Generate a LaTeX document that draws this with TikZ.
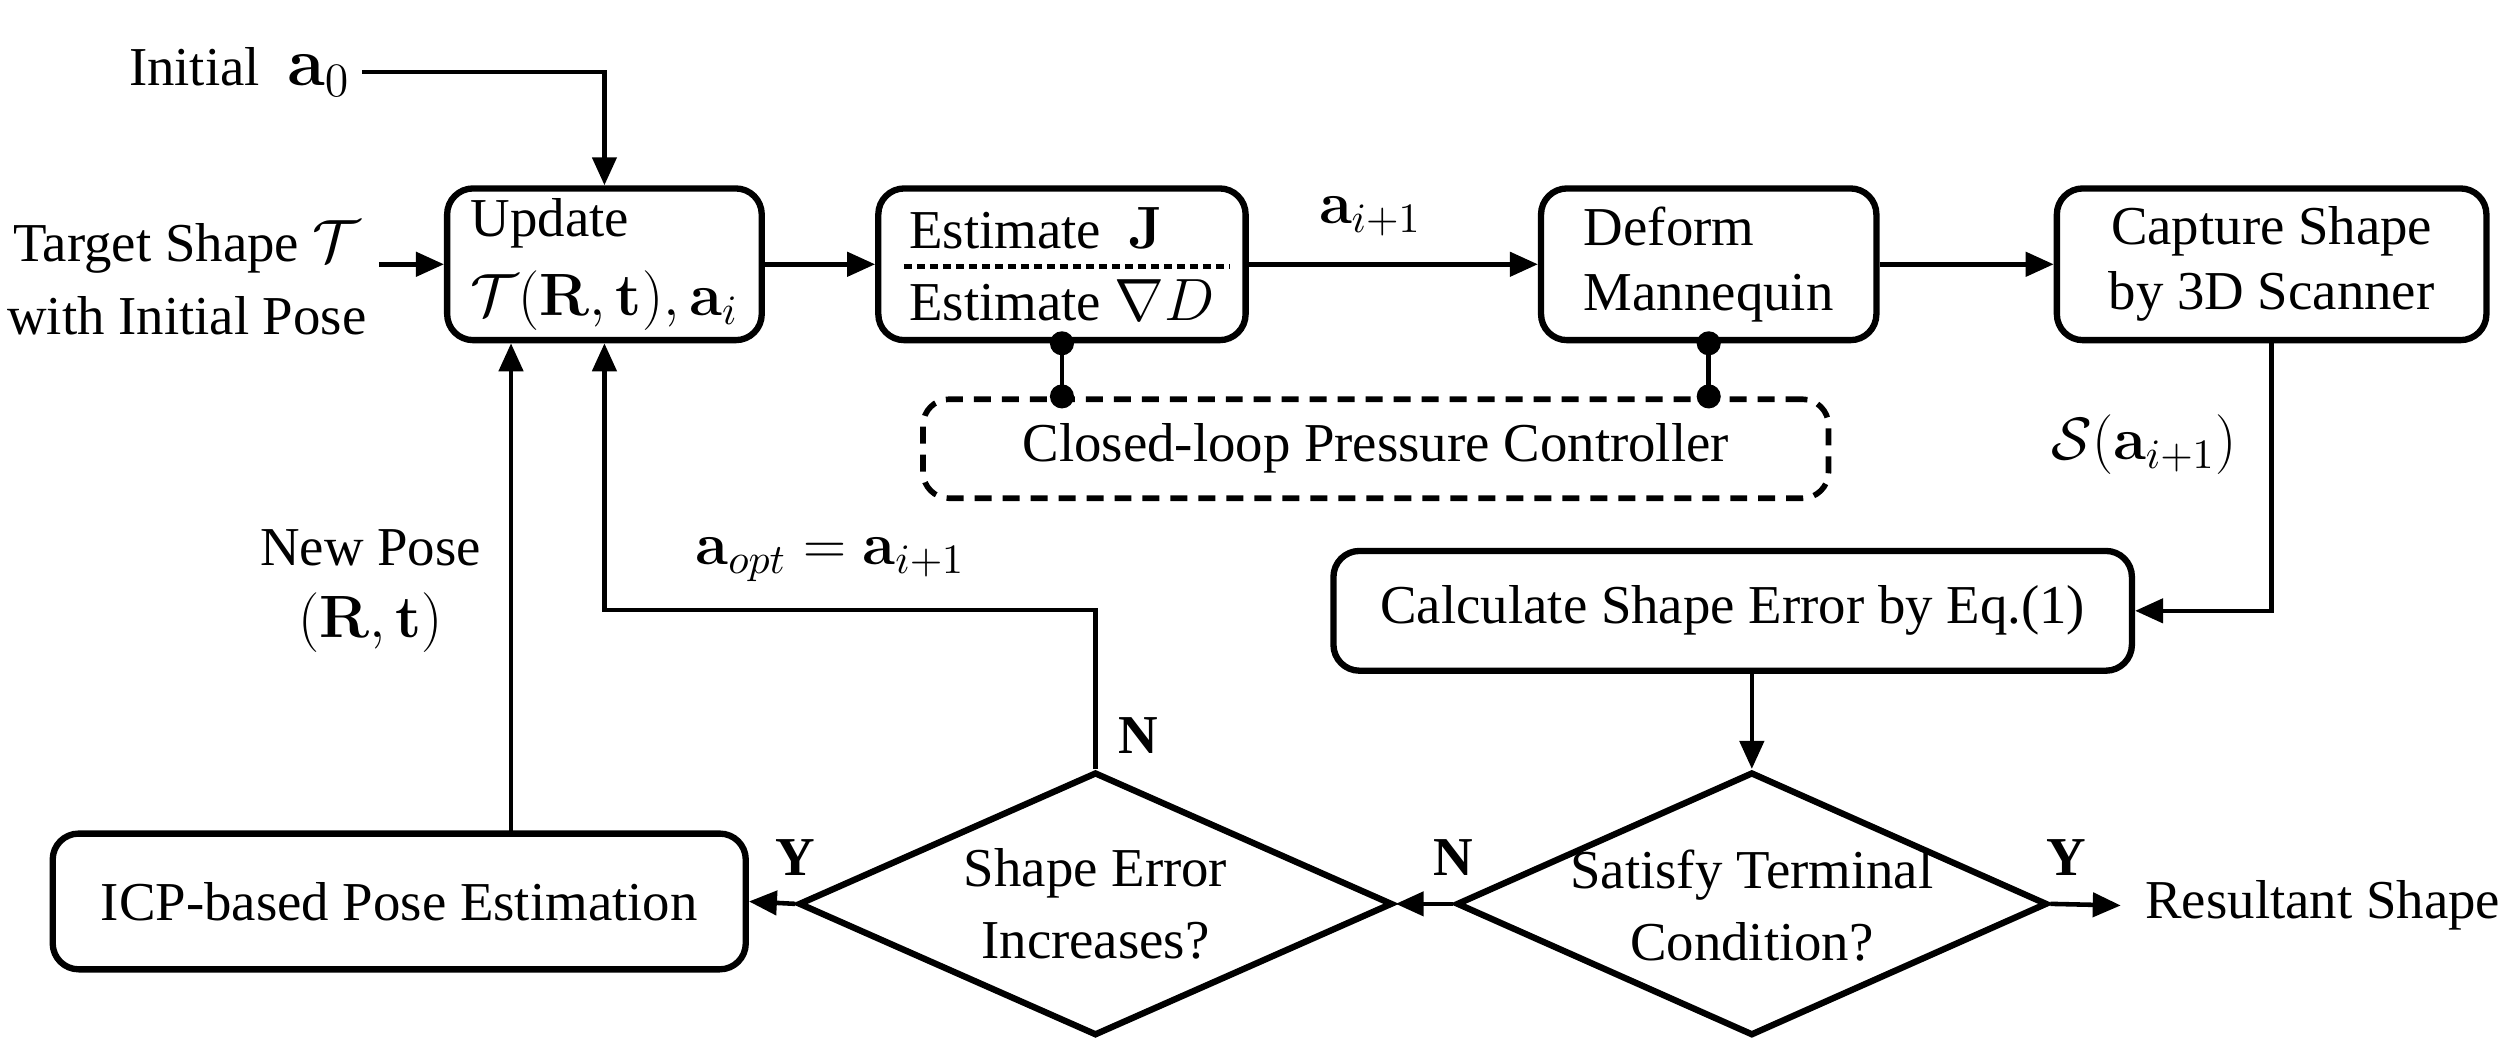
\RequirePackage{fix-cm}
\documentclass[tikz,border=0pt]{standalone}
\usepackage[no-math]{fontspec}
\setmainfont{Liberation Serif}
\usetikzlibrary{arrows.meta,shapes.geometric}
\newdimen\myu \myu=0.01597cm
\newcommand{\mm}[1]{{\fontsize{17}{18.5}\selectfont$#1$}}
\newcommand{\mmb}[1]{{\fontsize{19.5}{19.5}\selectfont$#1$}}
\begin{document}
\begin{tikzpicture}[x=0.01597cm,y=-0.01597cm,
  font=\fontsize{15.6}{18.5}\selectfont,
  box/.style={draw, line width=1.8pt, rounded corners=0.26cm, inner sep=0pt},
  arr/.style={line width=1.3pt, -{Triangle[length=0.28cm,width=0.24cm]}},
  dotl/.style={line width=1.3pt, {Circle[length=0.24cm,width=0.24cm]}-{Circle[length=0.24cm,width=0.24cm]}, shorten <=-0.12cm, shorten >=-0.12cm},
  dia/.style={diamond, draw, line width=1.8pt, inner sep=0pt}]
\useasboundingbox (0,0) rectangle (1568,651);

% boxes
\node[box, align=left, minimum width={197*\myu}, minimum height={95*\myu}] (upd) at (378.5,165.5)
  {Update\\[4pt]\mm{\mathcal{T}(\mathbf{R},\mathbf{t}),\mathbf{a}_i}};
\node[box, align=left, minimum width={230*\myu}, minimum height={95*\myu}] (est) at (665,165.5)
  {Estimate \ \mm{\mathbf{J}}\\[2pt]Estimate \mm{\nabla D}};
\node[box, align=left, minimum width={210*\myu}, minimum height={95*\myu}] (def) at (1070,165.5)
  {Deform\\Mannequin};
\node[box, align=center, minimum width={269*\myu}, minimum height={95*\myu}] (cap) at (1422.5,165.5)
  {Capture Shape\\by 3D Scanner};
\node[box, dashed, dash pattern=on 0.17cm off 0.11cm, line width=1.6pt, minimum width={567*\myu}, minimum height={62*\myu}] (ctrl) at (861.5,281)
  {Closed-loop Pressure Controller};
\node[box, minimum width={500*\myu}, minimum height={75*\myu}] (calc) at (1085,382.5)
  {Calculate Shape Error by Eq.(1)};
\node[box, minimum width={434*\myu}, minimum height={85*\myu}] (icp) at (250,564.5)
  {ICP-based Pose Estimation};
\node[dia, minimum width={372*\myu}, minimum height={165*\myu}] (d1) at (686,566) {};
\node[align=center] (d1t) at (686,566) {Shape Error\\[2pt]Increases?};
\node[dia, minimum width={370*\myu}, minimum height={165*\myu}] (d2) at (1097,566) {};
\node[align=center] (d2t) at (1097,567) {Satisfy Terminal\\[2pt]Condition?};

% free texts
\node (init) at (150,45) {Initial \ \mmb{\mathbf{a}_0}};
\node[align=center] (tgt) at (117,174) {Target Shape \mm{\mathcal{T}}\\[2pt]with Initial Pose};
\node[anchor=west, inner sep=0pt] (res) at (1343,567) {Resultant Shape};
\node[align=center] (np) at (232,370) {New Pose\\[2pt]\mm{(\mathbf{R},\mathbf{t})}};
\coordinate (k) at (378.5,382);
\coordinate (icpo) at (320,522);

% separator in estimate box
\draw[line width=1.3pt, dash pattern=on 0.08cm off 0.05cm] (566,167) -- (770,167);

% connectors
\draw[arr] (init) -| (upd);
\draw[arr] (tgt.east |- upd) -- (upd.west);
\draw[arr] (upd) -- (est);
\draw[arr] (est) -- node[pos=0.42, above=4pt] {\mm{\mathbf{a}_{i+1}}} (def);
\draw[arr] (def) -- (cap);
\draw[arr] (cap.south) |- node[pos=0.19, left=6pt] {\mm{\mathcal{S}(\mathbf{a}_{i+1})}} (calc.east);
\draw[arr] (d2.north |- calc.south) -- (d2.north);
\draw[arr] (d2.east) -- node[at start, above=4pt, xshift=0.16cm] {\textbf{Y}} (res.west -| 1328,0);
\draw[arr] (d2.west) -- node[at start, above=4pt] {\textbf{N}} (d1.east);
\draw[arr] (d1.west) -- node[at start, above=4pt] {\textbf{Y}} (icp.east);
\draw[arr] (d1.north) |- node[pos=0.77, above=4pt] {\mm{\mathbf{a}_{opt}=\mathbf{a}_{i+1}}} (k) -- (upd.south);
\node[anchor=south west, inner sep=0pt] at (700,472) {\textbf{N}};
\draw[arr] (icpo) -- (upd.south -| icpo);
\draw[dotl] (est.south) -- (est.south |- ctrl.north);
\draw[dotl] (def.south) -- (def.south |- ctrl.north);
\end{tikzpicture}
\end{document}
